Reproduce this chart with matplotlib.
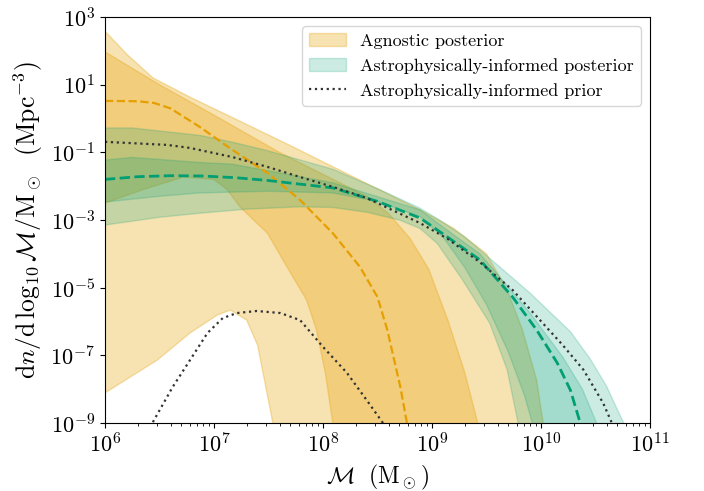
import matplotlib
matplotlib.use("Agg")
import matplotlib.pyplot as plt
import numpy as np

plt.rcParams['font.family'] = 'serif'
plt.rcParams['font.serif'] = ['cmr10']
plt.rcParams['mathtext.fontset'] = 'cm'
plt.rcParams['axes.unicode_minus'] = False
plt.rcParams['axes.formatter.use_mathtext'] = True

# all values are log10(chirp mass / Msun) and log10(dn/dlogM / Mpc^-3)
# agnostic posterior, outer band
agn_out_hi_lx = [6.0, 6.2, 6.44, 6.8, 7.2, 7.7, 8.2, 8.89, 9.2, 9.5, 9.69, 9.83, 9.96, 10.02, 10.05]
agn_out_hi_ly = [2.58, 1.9, 1.2, 0.6, -0.02, -0.8, -1.6, -2.7, -3.25, -4.0, -5.07, -6.25, -7.73, -9.0, -10.0]
agn_out_lo_lx = [6.0, 6.48, 6.78, 7.03, 7.15, 7.30, 7.40, 7.54, 7.56]
agn_out_lo_ly = [-8.11, -7.14, -6.34, -5.81, -5.66, -5.96, -6.70, -9.0, -10.0]
# agnostic posterior, inner band
agn_in_hi_lx = [6.0, 6.5, 7.0, 7.6, 8.0, 8.4, 8.6, 8.8, 8.97, 9.15, 9.3, 9.42, 9.45]
agn_in_hi_ly = [1.97, 1.0, 0.1, -1.0, -1.65, -2.3, -2.8, -3.55, -4.45, -6.0, -7.5, -9.0, -10.0]
agn_in_lo_lx = [6.0, 6.35, 6.72, 7.0, 7.12, 7.24, 7.49, 7.67, 7.85, 7.94, 8.02, 8.09, 8.11]
agn_in_lo_ly = [-2.5, -2.1, -1.73, -1.8, -2.1, -2.62, -3.39, -4.39, -5.37, -6.25, -7.5, -9.0, -10.0]
# agnostic posterior median
agn_med_lx = [6.0, 6.3, 6.45, 6.6, 6.87, 7.17, 7.49, 7.79, 8.09, 8.34, 8.50, 8.59, 8.71, 8.77, 8.79]
agn_med_ly = [0.52, 0.51, 0.46, 0.3, -0.25, -0.93, -1.61, -2.41, -3.39, -4.39, -5.28, -6.25, -7.94, -9.0, -10.0]

# astrophysically-informed posterior, outer band
ast_out_hi_lx = [6.0, 6.25, 6.87, 7.17, 7.49, 8.09, 8.52, 8.89, 9.07, 9.30, 9.50, 9.90, 10.27, 10.45, 10.6, 10.7, 10.76, 10.8]
ast_out_hi_ly = [-0.28, -0.28, -0.5, -0.7, -0.95, -1.5, -2.1, -2.65, -3.0, -3.5, -4.05, -5.16, -6.3, -7.1, -7.9, -8.6, -9.0, -9.6]
ast_out_lo_lx = [6.0, 6.5, 6.87, 7.3, 7.79, 8.09, 8.4, 8.7, 8.89, 9.05, 9.28, 9.53, 9.69, 9.79, 9.82]
ast_out_lo_ly = [-3.15, -2.92, -2.80, -2.68, -2.61, -2.63, -2.77, -3.0, -3.25, -3.7, -4.77, -6.05, -7.43, -9.0, -10.0]
# astrophysically-informed posterior, inner band
ast_in_hi_lx = [6.0, 6.25, 6.87, 7.17, 8.09, 8.89, 9.14, 9.44, 9.60, 9.90, 10.20, 10.38, 10.51, 10.55]
ast_in_hi_ly = [-1.23, -1.15, -1.3, -1.35, -1.9, -2.7, -3.3, -4.0, -4.6, -5.75, -7.05, -8.0, -9.0, -10.0]
ast_in_lo_lx = [6.0, 6.5, 6.87, 7.5, 8.09, 8.5, 8.89, 9.1, 9.3, 9.5, 9.7, 9.85, 9.92, 9.95]
ast_in_lo_ly = [-2.47, -2.3, -2.2, -2.15, -2.2, -2.45, -2.9, -3.5, -4.4, -5.5, -6.9, -8.2, -9.0, -10.0]
# astrophysically-informed posterior median
ast_med_lx = [6.0, 6.3, 6.6, 6.9, 7.2, 7.49, 8.09, 8.5, 8.89, 9.14, 9.44, 9.74, 9.96, 10.15, 10.27, 10.36, 10.38]
ast_med_ly = [-1.80, -1.72, -1.69, -1.70, -1.75, -1.83, -2.05, -2.45, -2.94, -3.5, -4.18, -5.28, -6.25, -7.23, -8.03, -9.0, -10.0]

# astrophysically-informed prior (two dotted curves)
pri_hi_lx = [6.0, 6.57, 6.78, 7.17, 7.49, 7.79, 8.09, 8.40, 8.89, 9.14, 9.44, 9.74, 9.96, 10.20, 10.39, 10.57, 10.65, 10.68]
pri_hi_ly = [-0.69, -0.78, -0.87, -1.14, -1.43, -1.73, -2.02, -2.35, -3.09, -3.55, -4.25, -5.07, -5.85, -6.70, -7.43, -8.41, -9.0, -10.0]
pri_lo_lx = [6.40, 6.44, 6.62, 6.78, 6.94, 7.08, 7.21, 7.39, 7.61, 7.79, 8.0, 8.22, 8.40, 8.55, 8.6]
pri_lo_ly = [-9.3, -8.97, -7.94, -7.14, -6.34, -5.90, -5.75, -5.69, -5.75, -5.96, -6.75, -7.52, -8.32, -9.0, -9.3]

c_agn = '#E69F00'
c_ast = '#009E73'


def band(ax, hx, hy, lx, ly, color, alpha, label=None):
    xs = np.concatenate([hx, lx[::-1]])
    ys = np.concatenate([hy, ly[::-1]])
    return ax.fill(10 ** xs, 10 ** ys, color=color, alpha=alpha, lw=1.0, label=label)


fig = plt.figure(figsize=(7.04, 4.91), dpi=100)
ax = fig.add_axes([105 / 704, 68 / 491, 545 / 704, 406 / 491])

band(ax, agn_out_hi_lx, agn_out_hi_ly, agn_out_lo_lx, agn_out_lo_ly, c_agn, 0.3, 'Agnostic posterior')
band(ax, agn_in_hi_lx, agn_in_hi_ly, agn_in_lo_lx, agn_in_lo_ly, c_agn, 0.3)
band(ax, ast_out_hi_lx, ast_out_hi_ly, ast_out_lo_lx, ast_out_lo_ly, c_ast, 0.2, 'Astrophysically-informed posterior')
band(ax, ast_in_hi_lx, ast_in_hi_ly, ast_in_lo_lx, ast_in_lo_ly, c_ast, 0.2)

ax.plot(10 ** np.array(agn_med_lx), 10 ** np.array(agn_med_ly), '--', color=c_agn, lw=1.6)
ax.plot(10 ** np.array(ast_med_lx), 10 ** np.array(ast_med_ly), '--', color=c_ast, lw=2.0)
ax.plot(10 ** np.array(pri_hi_lx), 10 ** np.array(pri_hi_ly), ':', color='#333333', lw=1.6,
        label='Astrophysically-informed prior')
ax.plot(10 ** np.array(pri_lo_lx), 10 ** np.array(pri_lo_ly), ':', color='#333333', lw=1.6)

ax.set_xscale('log')
ax.set_yscale('log')
ax.set_xlim(1e6, 1e11)
ax.set_ylim(1e-9, 1e3)
ax.set_yticks([1e3, 1e1, 1e-1, 1e-3, 1e-5, 1e-7, 1e-9])
ax.yaxis.set_minor_locator(matplotlib.ticker.NullLocator())
ax.tick_params(labelsize=16)

ax.set_xlabel(r'$\mathcal{M}\ \ (\mathrm{M}_\odot)$', fontsize=17)
ax.set_ylabel(r'$\mathrm{d}n/\mathrm{d}\,\log_{10}\mathcal{M}/\mathrm{M}_\odot\ \ (\mathrm{Mpc}^{-3})$', fontsize=18.5)

ax.legend(loc='upper right', fontsize=13)

fig.savefig('out.png', dpi=100)
